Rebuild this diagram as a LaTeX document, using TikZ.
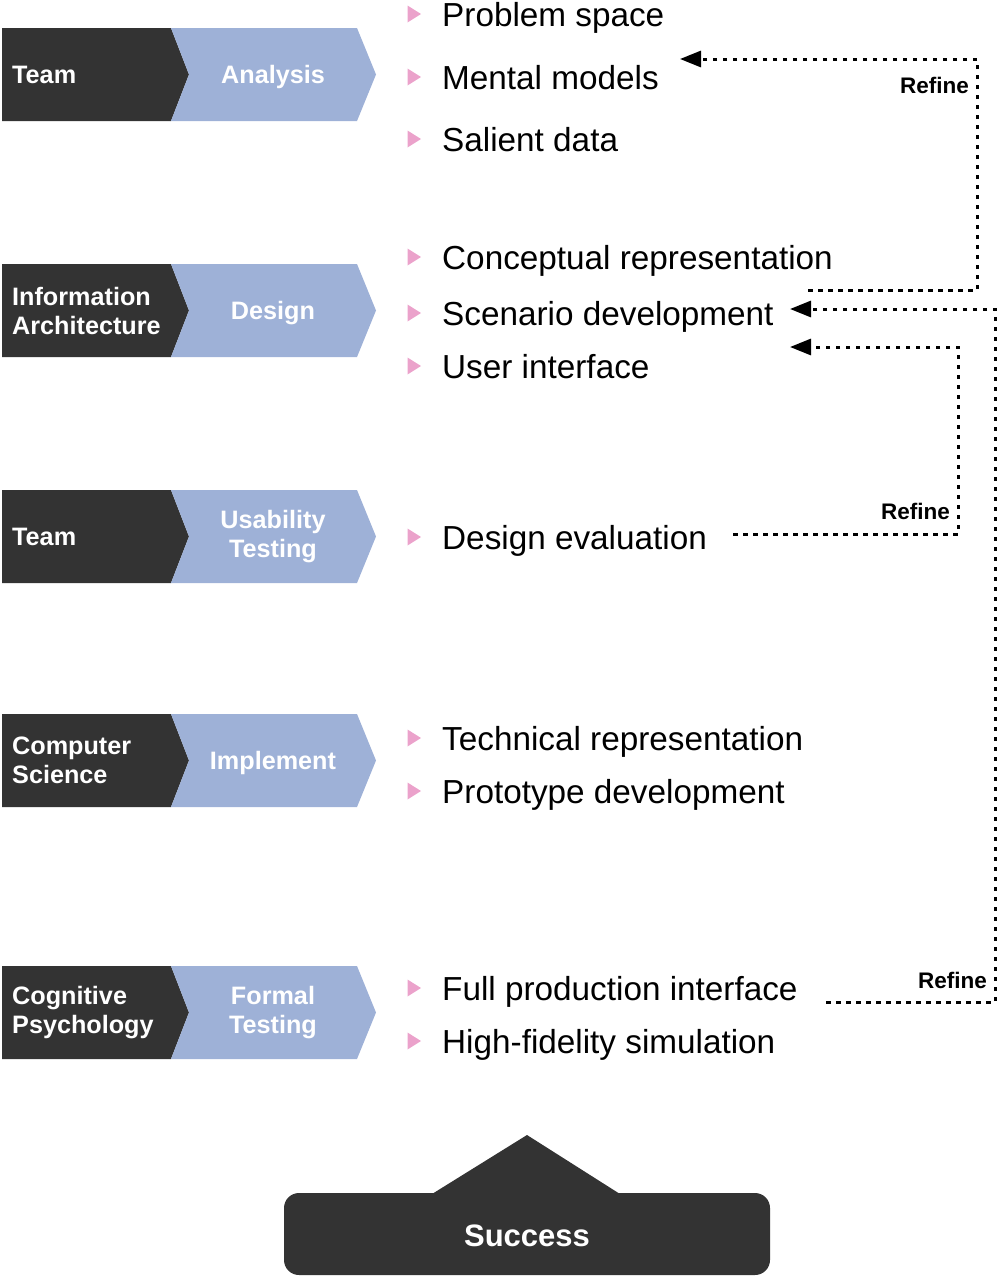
\documentclass[tikz,border=0pt]{standalone}
\usepackage{fontspec}
\setmainfont{Liberation Sans}
\usetikzlibrary{arrows.meta}

\definecolor{darkbox}{HTML}{333333}
\definecolor{phaseblue}{HTML}{9EB1D7}
\definecolor{bulletpink}{HTML}{EBA2CB}

\begin{document}
\begin{tikzpicture}[x=1pt, y=-1pt, >={Triangle[length=21pt, width=16pt]},
    role/.style={anchor=west, align=left, text=white, inner sep=0pt,
        font=\fontsize{25.2}{29}\selectfont\bfseries},
    phase/.style={align=center, text=white, inner sep=0pt,
        font=\fontsize{25.2}{29}\selectfont\bfseries},
    oneline/.style={text height=18pt, text depth=0pt},
    item/.style={anchor=base west, inner sep=0pt, font=\fontsize{33.3}{40}\selectfont},
    refine/.style={dash pattern=on 4.5pt off 5.5pt, line width=3pt},
    refinelabel/.style={anchor=east, inner sep=0pt, font=\fontsize{22.5}{26}\selectfont\bfseries}]

    \useasboundingbox (0,0) rectangle (999,1278);

    % --- 左侧箭头条 (角色 + 阶段) ---
    \foreach \t in {28, 264, 490, 714, 966} {
        \fill[darkbox] (2,\t) -- (171,\t) -- (189,\t+46.5) -- (171,\t+93) -- (2,\t+93) -- cycle;
        \fill[phaseblue] (171,\t) -- (357,\t) -- (376,\t+46.5) -- (357,\t+93)
            -- (171,\t+93) -- (189,\t+46.5) -- cycle;
    }

    \node[role, oneline]  (team1)     at (12,74.5)   {Team};
    \node[phase, oneline] (analysis)  at (273,74.5)  {Analysis};
    \node[role]           (infoarch)  at (12,310.5)  {Information\\Architecture};
    \node[phase, oneline] (design)    at (273,310.5) {Design};
    \node[role, oneline]  (team2)     at (12,536.5)  {Team};
    \node[phase]          (usability) at (273,536.5) {Usability\\Testing};
    \node[role]           (compsci)   at (12,760.5)  {Computer\\Science};
    \node[phase, oneline] (implement) at (273,760.5) {Implement};
    \node[role]           (cogpsych)  at (12,1012.5) {Cognitive\\Psychology};
    \node[phase]          (formal)    at (273,1012.5) {Formal\\Testing};

    % --- 右侧条目 ---
    \foreach \b/\n/\s in {26/problem/Problem space, 89/mental/Mental models,
            151/salient/Salient data, 269/conceptual/Conceptual representation,
            325/scenario/Scenario development, 378/userif/User interface,
            549/evaluation/Design evaluation, 750/technical/Technical representation,
            803/prototype/Prototype development, 1000/fullprod/Full production interface,
            1053/hifi/High-fidelity simulation} {
        \fill[bulletpink] (407.5,\b-20.5) -- (421,\b-12) -- (407.5,\b-3.5) -- cycle;
        \node[item] (\n) at (442,\b) {\s};
    }

    % --- 反馈回路 Refine ---
    \coordinate (conceptual-out) at (808,290);
    \coordinate (mental-in)      at (680,59);
    \coordinate (fullprod-out)   at (826,1002);
    \coordinate (scenario-in)    at (790,309);
    \coordinate (evaluation-out) at (733,534);
    \coordinate (userif-in)      at (790,347);

    \draw[refine, ->] (conceptual-out) -- ++(169,0) |- (mental-in);
    \node[refinelabel] (refine1) at (969,85) {Refine};

    \draw[refine, ->] (fullprod-out) -- ++(169,0) |- (scenario-in);
    \node[refinelabel] (refine3) at (987,980) {Refine};

    \draw[refine, ->] (evaluation-out) -- ++(225,0) |- (userif-in);
    \node[refinelabel] (refine2) at (950,511) {Refine};

    % --- Success ---
    \fill[darkbox, rounded corners=15pt] (284,1193) rectangle (770,1275);
    \fill[darkbox] (432,1194) -- (527,1135) -- (620,1194) -- cycle;
    \node[text=white, font=\fontsize{31}{37}\selectfont\bfseries] (success) at (527,1236) {Success};

\end{tikzpicture}
\end{document}
